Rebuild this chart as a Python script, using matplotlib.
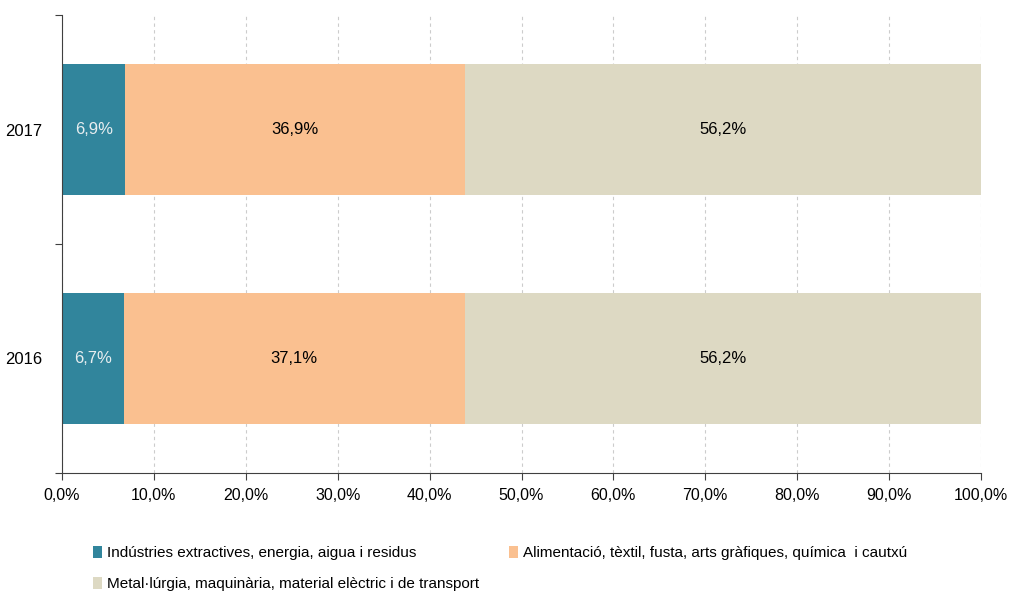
import matplotlib.pyplot as plt
from matplotlib.patches import Patch
from matplotlib.ticker import FuncFormatter

plt.rcParams['font.family'] = ['Liberation Sans', 'DejaVu Sans']

years = ['2016', '2017']
extractives = [6.7, 6.9]
alimentacio = [37.1, 36.9]
metall = [56.2, 56.2]
series_names = ['Indústries extractives, energia, aigua i residus',
                'Alimentació, tèxtil, fusta, arts gràfiques, química  i cautxú',
                'Metal·lúrgia, maquinària, material elèctric i de transport']
colors = ['#31859C', '#FAC090', '#DDD9C3']
label_colors = ['#E8EEF0', 'black', 'black']

fig = plt.figure(figsize=(10.09, 5.97), dpi=100)
ax = fig.add_axes([62 / 1009, 1 - 473 / 597, (981 - 62) / 1009, (473 - 15) / 597])

ypos = [0, 1]
left = [0.0, 0.0]
for vals, col, lc in zip([extractives, alimentacio, metall], colors, label_colors):
    ax.barh(ypos, vals, left=left, height=0.57, color=col, zorder=2)
    for y, v, l in zip(ypos, vals, left):
        ax.text(l + v / 2, y, f'{v:.1f}%'.replace('.', ','), ha='center', va='center',
                fontsize=12, color=lc, zorder=3)
    left = [a + b for a, b in zip(left, vals)]

ax.set_xlim(0, 100)
ax.set_ylim(-0.5, 1.5)
ax.set_xticks(range(0, 101, 10))
ax.xaxis.set_major_formatter(FuncFormatter(lambda x, p: f'{x:.1f}%'.replace('.', ',')))
ax.set_yticks([-0.5, 0.5, 1.5])
ax.set_yticklabels([])
ax.set_yticks(ypos, minor=True)
ax.set_yticklabels(years, minor=True)
ax.tick_params(axis='y', which='minor', length=0, labelsize=12, pad=14)
ax.tick_params(axis='y', which='major', length=5, direction='out', color='#404040')
ax.tick_params(axis='x', length=5, direction='out', labelsize=11.5, color='#404040', pad=6)
ax.grid(axis='x', color='#CCCCCC', linestyle=(0, (3, 3)), linewidth=0.8, zorder=0)
for s in ['top', 'right']:
    ax.spines[s].set_visible(False)
ax.spines['left'].set_color('#404040')
ax.spines['bottom'].set_color('#404040')

# legend entries placed like the reference: two on the first row, one below
legend_pos = [(93, 553), (509, 553), (93, 584)]
for name, col, (px, py) in zip(series_names, colors, legend_pos):
    fig.legend([Patch(facecolor=col)], [name], loc='center left',
               bbox_to_anchor=(px / 1009, 1 - py / 597), frameon=False, fontsize=11,
               handlelength=0.6, handleheight=0.8, handletextpad=0.3,
               borderpad=0, borderaxespad=0)

fig.savefig('out.png', dpi=100)
